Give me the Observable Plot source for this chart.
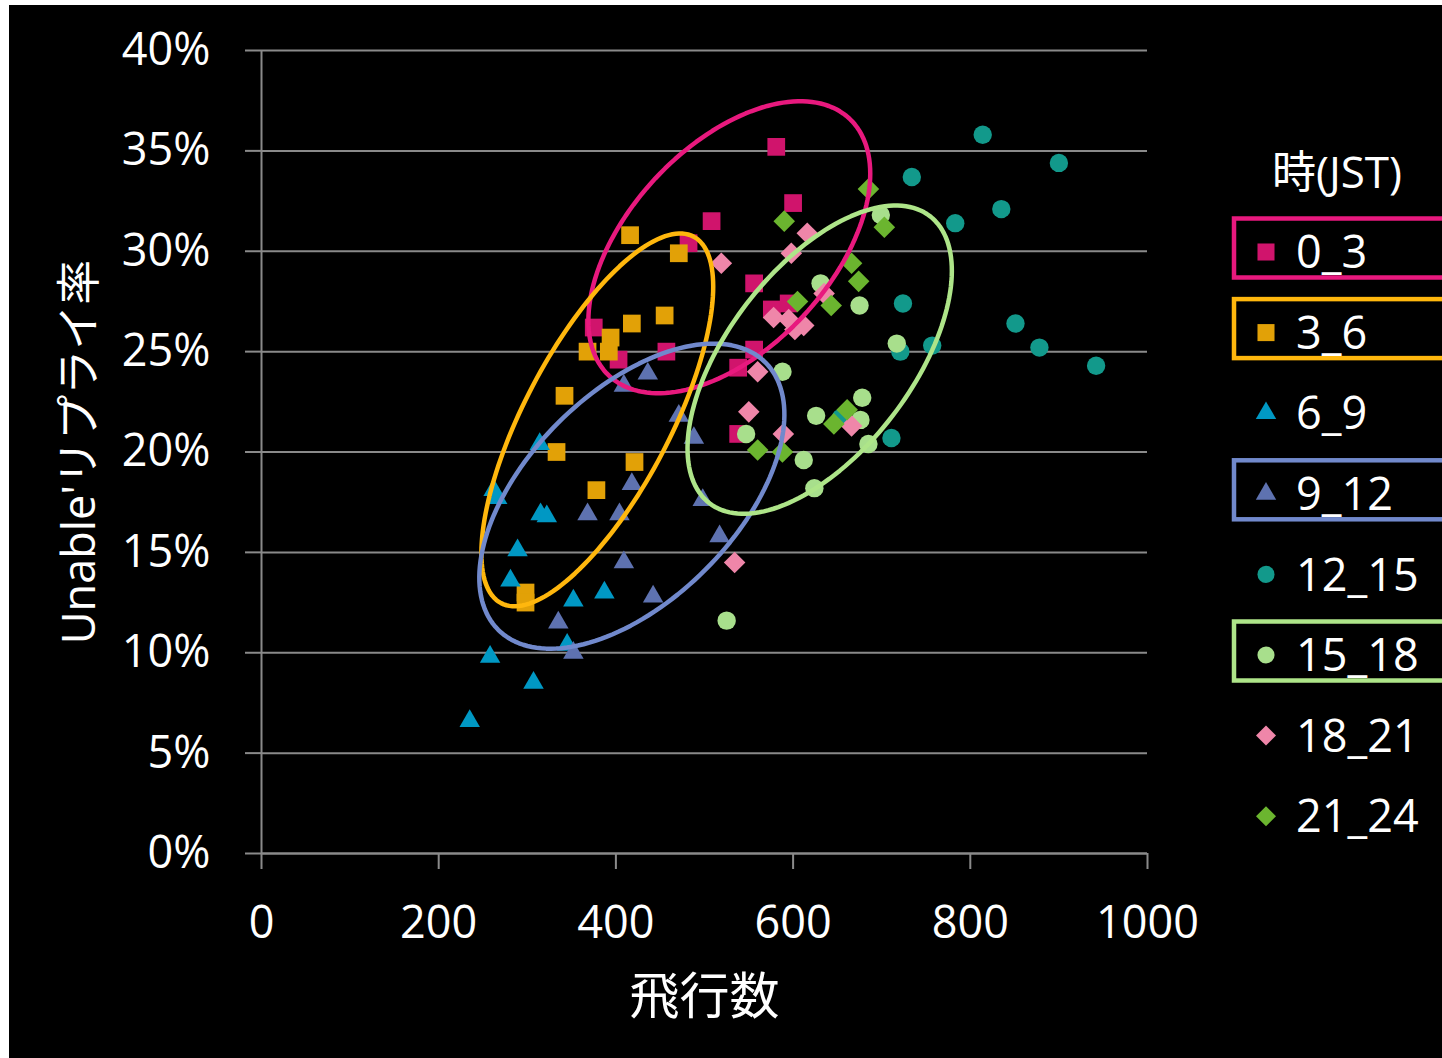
<!DOCTYPE html>
<html><head><meta charset="utf-8">
<script src="https://cdn.jsdelivr.net/npm/d3@7"></script>
<script src="https://cdn.jsdelivr.net/npm/@observablehq/plot@0.6"></script>
<style>
html,body{margin:0;padding:0;background:#fff;}
#chart{position:absolute;left:9px;top:5px;width:1433px;height:1053px;background:#000;overflow:hidden;}
#chart svg{position:absolute;left:0;top:0;}
</style></head>
<body><div id="chart"></div>
<script>
// ---- data ----
const seriesNames = ["0_3","3_6","6_9","9_12","12_15","15_18","18_21","21_24"];
const legendTitle = "時(JST)";
const xTitle = "飛行数";
const yTitle = "Unable'リプライ率";
const xTicks = [0,200,400,600,800,1000];
const yTicks = [0,5,10,15,20,25,30,35,40];

const flights_0_3 = [581,600,508,482,556,576,595,375,403,457,556,538,538];
const rate_0_3    = [35.2,32.4,31.5,30.4,28.4,27.1,27.4,26.2,24.6,25.0,25.1,24.2,20.9];
const flights_3_6 = [416,471,455,418,394,368,392,342,333,421,378,298,298];
const rate_3_6    = [30.8,29.9,26.8,26.4,25.7,25.0,25.0,22.8,20.0,19.5,18.1,13.0,12.5];
const flights_6_9 = [314,262,266,315,322,289,281,352,387,345,258,307,235];
const rate_6_9    = [20.4,18.1,17.7,16.9,16.8,15.1,13.6,12.6,13.0,10.4,9.8,8.5,6.6];
const flights_9_12 = [436,409,471,488,418,368,404,498,517,409,442,335,352];
const rate_9_12    = [23.9,23.3,21.8,20.7,18.4,16.9,16.9,17.6,15.8,14.5,12.8,11.5,10.0];
const flights_12_15 = [814,900,734,835,783,724,851,721,757,878,942,711,654];
const rate_12_15    = [35.8,34.4,33.7,32.1,31.4,27.4,26.4,25.0,25.3,25.2,24.3,20.7,21.7];
const flights_15_18 = [699,631,675,717,588,678,626,676,547,612,685,624,525];
const rate_15_18    = [31.8,28.4,27.3,25.4,24.0,22.7,21.8,21.6,20.9,19.6,20.4,18.2,11.6];
const flights_18_21 = [519,616,598,635,578,595,602,612,560,550,589,666,534];
const rate_18_21    = [29.4,30.9,29.9,27.9,26.7,26.6,26.1,26.3,24.0,22.0,20.9,21.3,14.5];
const flights_21_24 = [685,590,703,666,674,605,643,661,646,560,588];
const rate_21_24    = [33.1,31.5,31.2,29.4,28.5,27.5,27.3,22.1,21.4,20.1,20.0];

// annotation ellipses (centre in data units, semi-axes in px, tilt in degrees)
const ellipseSeries = ["0_3","3_6","9_12","15_18"];
const ellipseCx = [528,379,418,630];
const ellipseCy = [30.2,21.6,17.8,24.6];
const ellipseA  = [176,207,189,181];
const ellipseB  = [101,73,104,92];
const ellipseAngle = [47,62.3,45,52.5];
const boxedSeries = ["0_3","3_6","9_12","15_18"];

// ---- styles ----
const dotColor = {"0_3":"#d0146c","3_6":"#e2a107","6_9":"#0098c4","9_12":"#5e72b0",
  "12_15":"#12998b","15_18":"#a8df8c","18_21":"#ef86a9","21_24":"#6bb52f"};
const ringColor = {"0_3":"#e8197e","3_6":"#ffb70d","9_12":"#7189cc","15_18":"#aee589"};
const shape = {"0_3":"square","3_6":"square","6_9":"triangle","9_12":"triangle",
  "12_15":"circle","15_18":"circle","18_21":"diamond","21_24":"diamond"};
const radius = {square:10, triangle:7.6, circle:9.2, diamond:8.6};
const legendSize = {square:290, triangle:180, circle:230, diamond:200};

const W = 1433, H = 1053, ML = 252, MR = 295, MT = 45, MB = 205;
const FONT = "'Open Sans','Noto Sans CJK JP',sans-serif";
const GRID = "#8a8a8a";

const xs = [flights_0_3,flights_3_6,flights_6_9,flights_9_12,flights_12_15,flights_15_18,flights_18_21,flights_21_24];
const ys = [rate_0_3,rate_3_6,rate_6_9,rate_9_12,rate_12_15,rate_15_18,rate_18_21,rate_21_24];

const dotMarks = seriesNames.map((s, k) => {
  const rows = xs[k].map((x, i) => ({x, y: ys[k][i]}));
  const sh = shape[s];
  return Plot.dot(rows, {x: "x", y: "y", fill: dotColor[s],
    symbol: sh === "diamond" ? "square" : sh,
    rotate: sh === "diamond" ? 45 : 0, r: radius[sh]});
});

const kx = (W - ML - MR) / (xTicks[xTicks.length-1] - xTicks[0]);
const ky = (H - MT - MB) / (yTicks[yTicks.length-1] - yTicks[0]);
const ellipseMarks = ellipseSeries.map((s, k) => {
  const th = ellipseAngle[k] * Math.PI / 180, a = ellipseA[k], b = ellipseB[k];
  const pts = d3.range(0, 161).map(i => {
    const t = i / 160 * 2 * Math.PI;
    const X = a*Math.cos(t)*Math.cos(th) - b*Math.sin(t)*Math.sin(th);
    const Y = a*Math.cos(t)*Math.sin(th) + b*Math.sin(t)*Math.cos(th);
    return {x: ellipseCx[k] + X / kx, y: ellipseCy[k] + Y / ky};
  });
  return Plot.line(pts, {x: "x", y: "y", stroke: ringColor[s], strokeWidth: 4.5});
});

const plot = Plot.plot({
  width: W, height: H, marginLeft: ML, marginRight: MR, marginTop: MT, marginBottom: MB,
  style: {background: "transparent", color: "white", fontFamily: FONT, overflow: "visible"},
  x: {domain: [0, 1000]},
  y: {domain: [0, 40]},
  marks: [
    Plot.gridY(yTicks, {stroke: GRID, strokeOpacity: 1, strokeWidth: 2}),
    Plot.ruleX([0], {stroke: GRID, strokeWidth: 2}),
    Plot.ruleY([0], {stroke: GRID, strokeWidth: 2}),
    Plot.axisY(yTicks, {tickSize: 16, tickPadding: 35, stroke: GRID, strokeWidth: 2, fill: "white",
      fontSize: 45, tickFormat: d => d + "%", label: null}),
    Plot.axisX(xTicks, {tickSize: 16, tickPadding: 37, stroke: GRID, strokeWidth: 2, fill: "white",
      fontSize: 45, tickFormat: d => String(d), label: null}),
    Plot.text([xTitle], {text: d => d, frameAnchor: "bottom", dy: 160, fontSize: 50, fill: "white"}),
    Plot.text([yTitle], {text: d => d, frameAnchor: "left", textAnchor: "middle", dx: -181, rotate: -90, fontSize: 45, fill: "white"}),
    ...dotMarks,
    ...ellipseMarks
  ]
});
document.getElementById("chart").appendChild(plot);

// ---- legend ----
const leg = d3.select("#chart").append("svg")
  .attr("width", W).attr("height", H)
  .style("font-family", FONT).style("pointer-events", "none");
leg.append("text").attr("x", 1328).attr("y", 167).attr("dy", "0.36em")
  .attr("text-anchor", "middle").attr("fill", "white").attr("font-size", 44).text(legendTitle);
const itemY0 = 247, itemStep = 80.6;
seriesNames.forEach((s, i) => {
  const cy = itemY0 + i * itemStep;
  if (boxedSeries.includes(s)) {
    leg.append("rect").attr("x", 1225).attr("y", cy - 33.5).attr("width", 260).attr("height", 59)
      .attr("fill", "none").attr("stroke", ringColor[s]).attr("stroke-width", 4.5);
  }
  const sh = shape[s];
  const symType = sh === "triangle" ? d3.symbolTriangle : sh === "circle" ? d3.symbolCircle : d3.symbolSquare;
  leg.append("path").attr("d", d3.symbol(symType, legendSize[sh])())
    .attr("transform", `translate(1257,${cy})` + (sh === "diamond" ? " rotate(45)" : ""))
    .attr("fill", dotColor[s]);
  leg.append("text").attr("x", 1287).attr("y", cy).attr("dy", "0.36em")
    .attr("fill", "white").attr("font-size", 45).text(s);
});
</script>
</body></html>
